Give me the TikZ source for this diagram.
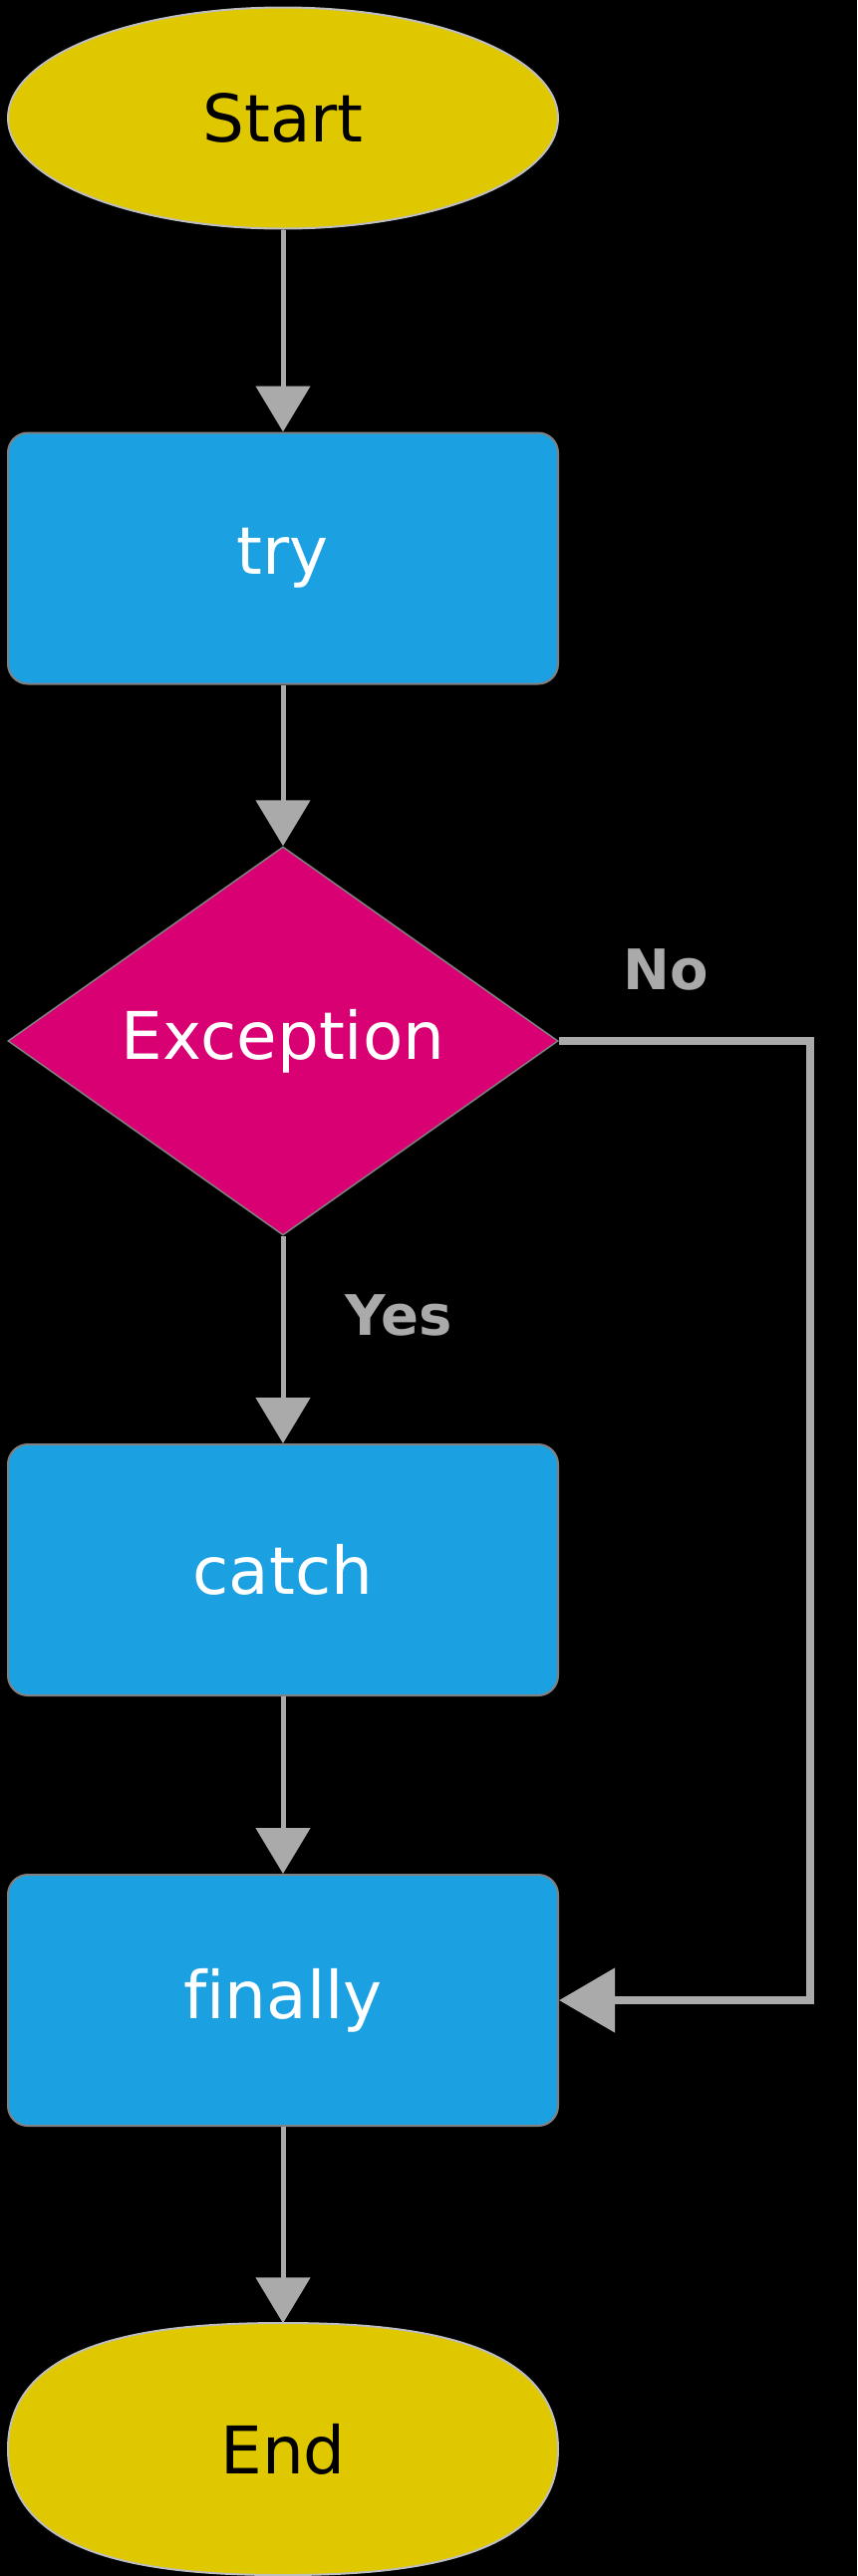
\documentclass[tikz,border=0pt]{standalone}
\usepackage{fontspec}
\setmainfont[Ligatures={NoCommon}]{DejaVu Sans}
\usetikzlibrary{shapes.geometric,arrows.meta}
\definecolor{termyellow}{RGB}{224,200,0}
\definecolor{procblue}{RGB}{27,161,226}
\definecolor{decmag}{RGB}{216,0,115}
\definecolor{connGray}{RGB}{170,170,170}
\definecolor{edgeGray}{RGB}{128,128,128}
\definecolor{ellGray}{RGB}{190,190,190}
\begin{document}
\begin{tikzpicture}[x=1pt,y=-1pt,
  bigtext/.style={font=\fontsize{66}{78}\selectfont},
  term/.style={bigtext, ellipse, fill=termyellow, draw=ellGray, line width=2pt, minimum width=552pt, minimum height=222pt, inner sep=0pt, text=black},
  endterm/.style={bigtext, rectangle, minimum width=552pt, minimum height=252pt, inner sep=0pt, text=black},
  endfill/.style={fill=termyellow, draw=ellGray, line width=2pt},
  proc/.style={bigtext, rectangle, rounded corners=20pt, fill=procblue, draw=edgeGray, line width=2pt, minimum width=552pt, minimum height=252pt, inner sep=0pt, text=white},
  decision/.style={bigtext, diamond, fill=decmag, draw=edgeGray, line width=1.5pt, minimum width=552pt, minimum height=390pt, inner sep=0pt, text=white},
  conn/.style={draw=connGray, line width=5pt, -{Triangle[width=54pt,length=46pt]}},
  connthick/.style={draw=connGray, line width=8pt, -{Triangle[width=63pt,length=56pt]}},
  lbl/.style={font=\fontsize{56}{66}\selectfont\bfseries, text=connGray, inner sep=0pt}
]
\path[use as bounding box, fill=black] (0,0) rectangle (860,2586);

\node[term] (start) at (284,118.5) {Start};
\node[proc] (try) at (284,560.5) {try};
\node[decision] (exc) at (284,1045) {Exception};
\node[proc] (catch) at (284,1576) {catch};
\node[proc] (fin) at (284,2008) {finally};

% End terminal: squircle-like outline drawn behind its text node
\path[endfill] (8,2458.5)
  .. controls (8,2345) and (165,2332) .. (284,2332)
  .. controls (403,2332) and (560,2345) .. (560,2458.5)
  .. controls (560,2572) and (403,2585) .. (284,2585)
  .. controls (165,2585) and (8,2572) .. (8,2458.5) -- cycle;
\node[endterm] (end) at (284,2458.5) {End};

\coordinate (noX) at (813,0);

\draw[conn] (start) -- (try);
\draw[conn] (try) -- (exc);
\draw[conn] (exc) -- (catch);
\draw[conn] (catch) -- (fin);
\draw[conn] (fin) -- (end);
\draw[connthick, line join=miter] (exc.east) -- (exc.east -| noX) |- (fin.east);

\node[lbl] (no) at (668,973) {No};
\node[lbl] (yes) at (400,1320) {Yes};
\end{tikzpicture}
\end{document}
